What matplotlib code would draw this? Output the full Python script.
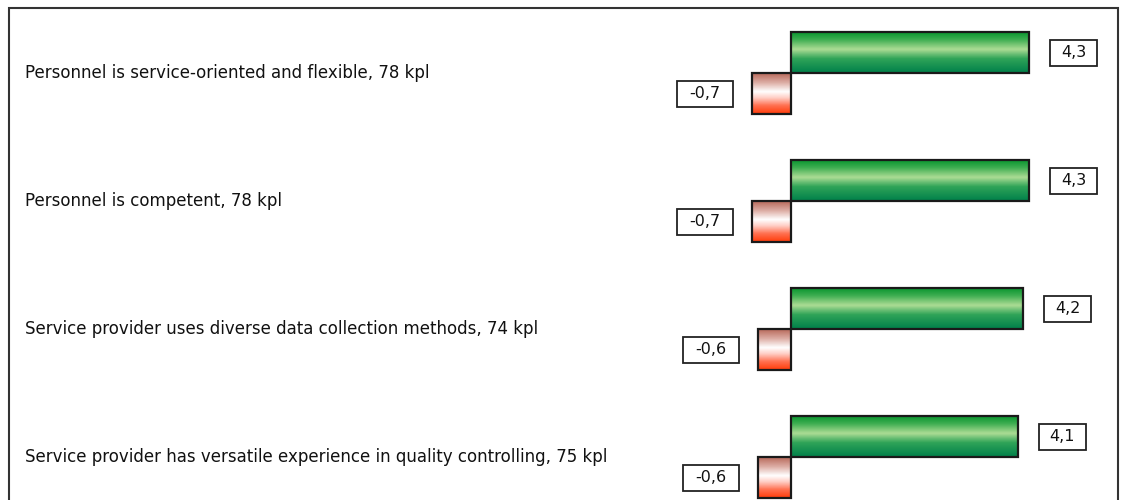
import numpy as np
import matplotlib.pyplot as plt
from matplotlib.colors import LinearSegmentedColormap
from matplotlib.patches import Rectangle
from matplotlib.transforms import Affine2D

# ---- data ----
statements = [
    "Personnel is service-oriented and flexible, 78 kpl",
    "Personnel is competent, 78 kpl",
    "Service provider uses diverse data collection methods, 74 kpl",
    "Service provider has versatile experience in quality controlling, 75 kpl",
]
positive = [4.3, 4.3, 4.2, 4.1]
negative = [-0.7, -0.7, -0.6, -0.6]

W, H = 1125, 500
fig = plt.figure(figsize=(W / 100, H / 100), dpi=100)
ax = fig.add_axes([0, 0, 1, 1])

# scale: zero line at x=791 px, ~55.35 px per unit; rows every 128 px
px_per_unit = 55.35
x0 = 791
ax.set_xlim(-x0 / px_per_unit, (W - x0) / px_per_unit)
row_px = 128
ax.set_ylim((H - 73) / row_px, -73 / row_px)
ax.axis("off")

bar_h = 41 / row_px

green_cmap = LinearSegmentedColormap.from_list(
    "g", [(0, "#0b9630"), (0.18, "#3fae52"), (0.42, "#acdc94"),
          (0.65, "#30a458"), (1, "#00804a")])
red_cmap = LinearSegmentedColormap.from_list(
    "r", [(0, "#b86a5c"), (0.25, "#e0b4ac"), (0.45, "#ffffff"),
          (0.6, "#ffd0c8"), (0.8, "#ff7050"), (1, "#ff3c0a")])
grad = np.linspace(0, 1, 64).reshape(-1, 1)


def gradient_bar(x_start, x_end, y_top, cmap):
    ax.imshow(grad, cmap=cmap, aspect="auto", interpolation="bilinear",
              extent=(x_start, x_end, y_top + bar_h, y_top), zorder=2)
    ax.add_patch(Rectangle((x_start, y_top), x_end - x_start, bar_h,
                           fill=False, edgecolor="#1a1a1a", lw=1.6, zorder=3))


def value_box(x, y, text, gap, width, height=26):
    # boxed value label, placed `gap` pixels beside the bar end
    px, py = ax.transData.transform((x, y))
    left = px + gap if gap > 0 else px + gap - width
    tr = Affine2D().translate(left, py - height / 2)
    fig.patches.append(Rectangle((0, 0), width, height, transform=tr,
                                 fc="white", ec="#222222", lw=1.3))
    fig.text((left + width / 2) / W, py / H, text, ha="center",
             va="center", fontsize=11.5, color="#111111")


for i, (label, pos, neg) in enumerate(zip(statements, positive, negative)):
    gradient_bar(0, pos, i - bar_h, green_cmap)
    gradient_bar(neg, 0, i, red_cmap)

    ax.text(-x0 / px_per_unit + 25 / px_per_unit, i, label, fontsize=12,
            va="center", ha="left", color="#111111",
            family="DejaVu Sans")

    value_box(pos, i - bar_h / 2, f"{pos:.1f}".replace(".", ","), 21, 47)
    value_box(neg, i + bar_h / 2, f"{neg:.1f}".replace(".", ","), -19, 56)

# outer frame
fig.patches.append(Rectangle((8.5 / W, -0.05), 1109 / W, 1.05 - 8.5 / H,
                             transform=fig.transFigure, fill=False,
                             edgecolor="#333333", lw=1.5))

fig.savefig("out.png", dpi=100, facecolor="white")
